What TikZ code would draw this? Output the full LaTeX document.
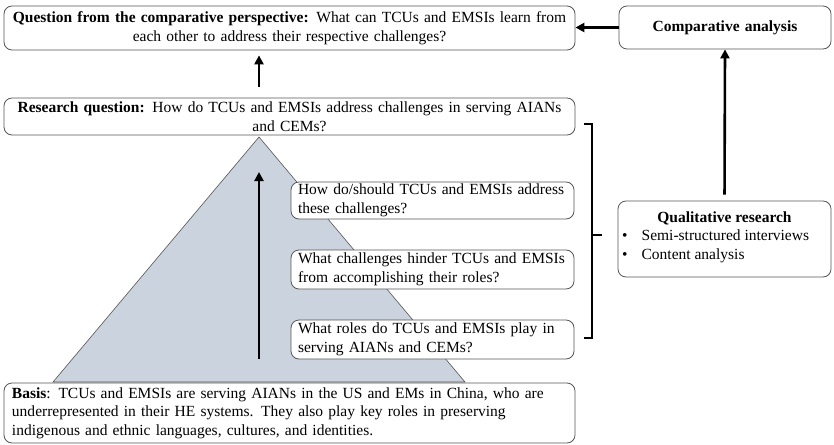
\documentclass[tikz,border=0pt]{standalone}
\usepackage{fontspec}
\setmainfont{Liberation Serif}
\usetikzlibrary{arrows.meta,calc}
\definecolor{trifill}{HTML}{CBD3DE}
\definecolor{edge}{HTML}{555555}
\begin{document}
\begin{tikzpicture}[x=1pt,y=-1pt,
  font=\fontsize{15.5}{18.5}\selectfont,
  box/.style={draw=edge, line width=0.8pt, rounded corners=8pt, fill=white, inner xsep=8pt, inner ysep=0pt},
  arr/.style={line width=2.6pt, -{Triangle[length=9pt,width=9pt]}},
  brace/.style={line width=1.1pt}
]
\useasboundingbox (0,0) rectangle (834,444);
% pyramid
\path[fill=trifill, draw=edge, line width=0.6pt] (259,137) coordinate (apex) -- (53,382) coordinate (bl) -- (465,382) coordinate (br) -- cycle;
% boxes
\node[box, text width=555pt, minimum height=44pt, align=center] (top) at (289.5,28)
  {\textbf{Question from the comparative perspective:} What can TCUs and EMSIs learn from\\each other to address their respective challenges?};
\node[box, text width=555pt, minimum height=37pt, align=center] (rq) at (289.5,116.5)
  {\textbf{Research question:} How do TCUs and EMSIs address challenges in serving AIANs\\and CEMs?};
\node[box, text width=269pt, minimum height=37pt, align=left, inner xsep=7pt] (q3) at (432.5,200.5)
  {How do/should TCUs and EMSIs address\\these challenges?};
\node[box, text width=269pt, minimum height=39pt, align=left, inner xsep=7pt] (q2) at (432.5,269.5)
  {What challenges hinder TCUs and EMSIs\\from accomplishing their roles?};
\node[box, text width=269pt, minimum height=39pt, align=left, inner xsep=7pt] (q1) at (432.5,339.5)
  {What roles do TCUs and EMSIs play in\\serving AIANs and CEMs?};
\node[box, text width=555pt, minimum height=60pt, align=left] (basis) at (289.5,413)
  {\textbf{Basis}: TCUs and EMSIs are serving AIANs in the US and EMs in China, who are\\underrepresented in their HE systems. They also play key roles in preserving\\indigenous and ethnic languages, cultures, and identities.};
\node[box, text width=196pt, minimum height=43pt, align=center] (comp) at (725,27.5)
  {\textbf{Comparative analysis}};
\node[box, text width=197pt, minimum height=76pt] (qual) at (724.5,239) {};
\node[inner sep=0pt, align=center] (qtitle) at (724.5,218) {\textbf{Qualitative research}};
\node[anchor=north west, inner sep=0pt, align=left] (qlist) at (622,230)
  {\textbullet\hspace{14pt}Semi-structured interviews\\\textbullet\hspace{14pt}Content analysis};
% arrows
\draw[arr] (comp.west) -- (comp.west -| top.east);
\draw[arr, shorten <=11pt, shorten >=5pt] (rq.north -| apex) -- (top.south -| apex);
\coordinate (ta) at (259,359);
\coordinate (tb) at (259,172);
\draw[arr] (ta) -- (tb);
\draw[arr, shorten <=6pt] (qual.north) -- (comp.south);
% brace
\coordinate (bt) at (584,124);
\coordinate (bb) at (584,338);
\coordinate (bm) at (602,235);
\draw[brace] (bt) -- ++(8,0) -- (592,338) -- (bb);
\draw[brace] (592,235) -- (bm);
\end{tikzpicture}
\end{document}
